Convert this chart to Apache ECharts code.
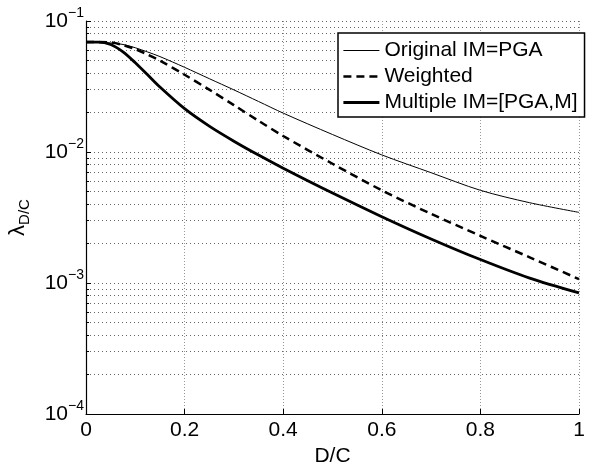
<!DOCTYPE html>
<html>
<head>
<meta charset="utf-8">
<script src="https://cdn.jsdelivr.net/npm/echarts@6/dist/echarts.min.js"></script>
<style>
  html, body { margin: 0; padding: 0; background: #fff; }
  #main { width: 589px; height: 462px; }
</style>
</head>
<body>
<div id="main"></div>
<script>
// D/C values (x)
const dc = [0, 0.025, 0.05, 0.075, 0.1, 0.125, 0.15, 0.2, 0.25, 0.3, 0.35, 0.4, 0.5, 0.6, 0.7, 0.8, 0.9, 1.0];

// lambda D/C
const original = [0.069, 0.0689, 0.068, 0.0662, 0.0625, 0.058, 0.0535, 0.0443, 0.0363, 0.0298, 0.0243, 0.0198, 0.0136, 0.0095, 0.00695, 0.0051, 0.0041, 0.00346];
const weighted = [0.069, 0.069, 0.0686, 0.0656, 0.061, 0.0555, 0.0498, 0.0389, 0.0299, 0.0228, 0.0173, 0.01324, 0.00813, 0.0051, 0.00337, 0.00229, 0.00157, 0.00107];
const multiple = [0.069, 0.069, 0.0661, 0.0581, 0.048, 0.0388, 0.0313, 0.0214, 0.01575, 0.01209, 0.00947, 0.00752, 0.00486, 0.00321, 0.00217, 0.00151, 0.00109, 0.00084];

const seriesNames = ['Original IM=PGA', 'Weighted', 'Multiple IM=[PGA,M]'];

// log grid: 1..9 x each decade, from 1e-4 to 1e-1
const decades = [-4, -3, -2];
const logTicks = [];
decades.forEach(d => {
    for (let k = 1; k < 10; k++) logTicks.push(d + Math.log10(k));
});
logTicks.push(-1);

const font = "'Liberation Sans', Arial, Helvetica, sans-serif";

const styles = [
    { color: '#000', width: 1 },
    { color: '#000', width: 2.5, type: [8, 5] },
    { color: '#000', width: 2.8 }
];

function pairs(ys) {
    return dc.map((x, i) => [x, ys[i]]);
}

const myChart = echarts.init(document.getElementById('main'));

const option = {
    animation: false,
    backgroundColor: '#fff',
    color: ['#000', '#000', '#000'],
    textStyle: { fontFamily: font },
    grid: { left: 86, right: 10, top: 21, bottom: 48, outerBoundsMode: 'none' },
    legend: {
        orient: 'vertical',
        left: 338,
        top: 33,
        data: seriesNames.map((n, i) => ({ name: n, lineStyle: styles[i] })),
        itemWidth: 36,
        itemHeight: 14,
        itemGap: 5,
        padding: [7, 7, 4, 4],
        backgroundColor: '#fff',
        borderColor: '#000',
        borderWidth: 1.5,
        borderRadius: 0,
        itemStyle: { opacity: 0 },
        textStyle: { fontSize: 21, color: '#000', fontFamily: font, lineHeight: 21 }
    },
    xAxis: {
        type: 'value',
        min: 0,
        max: 1,
        interval: 0.2,
        name: 'D/C',
        nameLocation: 'middle',
        nameGap: 25,
        nameTextStyle: { fontSize: 21, color: '#000', fontFamily: font },
        axisLine: { lineStyle: { color: '#000', width: 1.2 } },
        axisTick: { inside: true, length: 5, lineStyle: { color: '#000' } },
        axisLabel: {
            fontSize: 21, color: '#000', margin: 6, fontFamily: font,
            formatter: v => (v === 0 || v === 1) ? String(v) : v.toFixed(1)
        },
        splitLine: { show: true, lineStyle: { color: '#999', type: [1, 2], width: 1 } }
    },
    yAxis: [
        {
            type: 'log',
            min: 1e-4,
            max: 1e-1,
            logBase: 10,
            name: '{l|λ}{s|D/C}',
            nameLocation: 'middle',
            nameRotate: 90,
            nameGap: 54,
            nameTextStyle: {
                color: '#000',
                fontFamily: font,
                rich: {
                    l: { fontSize: 22, color: '#000', fontFamily: font },
                    s: { fontSize: 15, color: '#000', fontFamily: font, padding: [14, 0, 0, 0] }
                }
            },
            axisLine: { lineStyle: { color: '#000', width: 1.2 } },
            axisTick: { inside: true, length: 5, lineStyle: { color: '#000' } },
            axisLabel: {
                margin: 2,
                formatter: function (v) {
                    const e = Math.round(Math.log10(v));
                    return '{b|10}{s|\u2212' + (-e) + '}';
                },
                rich: {
                    b: { fontSize: 21, color: '#000', fontFamily: font },
                    s: { fontSize: 14, color: '#000', fontFamily: font, padding: [0, 0, 16, 0] }
                }
            },
            splitLine: { show: false }
        },
        {
            // helper axis in log10 units, only for minor ticks and the dotted grid
            type: 'value',
            min: -4,
            max: -1,
            position: 'left',
            axisLine: { show: false },
            axisTick: { show: true, inside: true, length: 3, customValues: logTicks, lineStyle: { color: '#000' } },
            axisLabel: { show: false },
            splitLine: { show: true, lineStyle: { color: '#666', type: [1, 3], width: 1 } }
        }
    ],
    series: [original, weighted, multiple].map((ys, i) => ({
        name: seriesNames[i],
        type: 'line',
        yAxisIndex: 0,
        data: pairs(ys),
        smooth: 0.3,
        symbol: 'none',
        itemStyle: { color: '#000' },
        lineStyle: styles[i]
    }))
};

myChart.setOption(option);
</script>
</body>
</html>
